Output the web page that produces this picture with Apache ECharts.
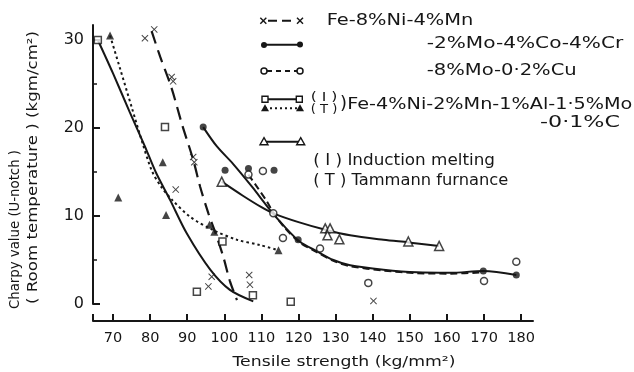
<!DOCTYPE html>
<html><head><meta charset="utf-8">
<script src="https://cdn.jsdelivr.net/npm/echarts@6/dist/echarts.min.js"></script>
<style>html,body{margin:0;padding:0;background:#fff}#c{width:634px;height:372px}</style>
</head><body><div id="c"></div>
<script>
// ---- tick labels ----
const xTicks = [70, 80, 90, 100, 110, 120, 130, 140, 150, 160, 170, 180];
const yTicks = [0, 10, 20, 30];
const yMinorTicks = [5, 15, 25];

// ---- measured points (tensile strength, charpy value) ----
const ptsFeNiMn = [[78.6,30.2],[81.1,31.2],[85.8,25.8],[86.2,25.3],[91.6,16.7],[91.9,16.1],[86.9,13.0],[96.6,3.1],[95.7,2.0],[106.7,3.3],[106.9,2.2],[140.2,0.35]];
const ptsMoCoCr = [[94.3,20.1],[100.2,15.2],[106.5,15.4],[113.4,15.2],[119.9,7.3],[169.8,3.75],[178.7,3.3]];
const ptsMoCu = [[106.5,14.7],[110.4,15.1],[113.2,10.3],[115.8,7.5],[125.8,6.3],[138.8,2.4],[170.0,2.6],[178.7,4.8]];
const ptsInduction = [[65.9,30.0],[84.0,20.1],[99.5,7.1],[92.6,1.4],[107.7,1.0],[117.9,0.26]];
const ptsTammann = [[69.2,30.5],[83.4,16.1],[71.4,12.1],[84.3,10.1],[96.0,9.0],[97.3,8.2],[114.6,6.1]];
const ptsC01 = [[99.3,13.9],[127.2,8.6],[128.5,8.6],[127.8,7.8],[131.0,7.35],[149.6,7.1],[157.9,6.6]];

// ---- fitted curves ----
const curveFeNiMn = [[80.4,31.0],[82.7,28.1],[85.8,24.5],[88.6,20.4],[91.6,16.4],[93.5,13.3],[95.7,10.3],[97.5,8.2],[99.7,5.4],[101.5,2.6],[103.4,0.45]];
const curveMoCoCr = [[94.3,20.1],[98.0,17.9],[102.4,15.9],[107.5,13.3],[112.3,10.7],[116.0,8.9],[120.3,7.1],[124.9,6.0],[129.4,5.0],[133.9,4.4],[142.9,3.9],[151.9,3.6],[160.9,3.55],[169.8,3.75],[178.7,3.3]];
const curveMoCu = [[106.5,14.7],[109.0,13.2],[111.4,11.7],[113.2,10.4],[116.0,8.8],[120.3,7.0],[124.9,5.9],[129.4,4.9],[133.9,4.3],[142.9,3.8],[151.9,3.5],[160.9,3.45],[169.8,3.6]];
const curveInduction = [[65.9,30.0],[70.0,26.2],[74.5,21.8],[78.5,18.0],[81.5,15.0],[85.4,11.8],[89.9,8.0],[96.2,3.9],[101.5,1.6],[107.8,0.3]];
const curveTammann = [[69.2,30.5],[72.0,26.6],[75.0,22.4],[78.0,18.2],[80.5,15.1],[83.0,13.3],[86.0,11.8],[90.8,9.9],[97.0,8.4],[103.4,7.3],[109.6,6.7],[114.6,6.1]];
const curveC01 = [[99.3,13.9],[105.0,12.3],[110.0,11.0],[113.2,10.3],[120.0,9.3],[127.5,8.4],[133.9,7.8],[142.9,7.3],[149.6,7.0],[157.9,6.6]];

const INK = '#161616';
const FONT = 'DejaVu Sans';
const CROSS = 'path://M1,0L5,4L9,0L10,1L6,5L10,9L9,10L5,6L1,10L0,9L4,5L0,1Z';

const mctx = document.createElement('canvas').getContext('2d');
function fitText(str, x, y, width, size, rot) {
  mctx.font = size + 'px "' + FONT + '"';
  const w = mctx.measureText(str).width;
  return { type: 'text', x: x, y: y, rotation: rot || 0, scaleX: width / w, z: 10,
    style: { text: str, fontSize: size, fontFamily: FONT, fill: INK, align: 'left', verticalAlign: 'middle' } };
}
function seg(x1, x2, y, dash) {
  return { type: 'line', shape: { x1: x1, y1: y, x2: x2, y2: y }, z: 10,
    style: { stroke: INK, lineWidth: 2, lineDash: dash || null } };
}
function dot(x, y, open) {
  return { type: 'circle', shape: { cx: x, cy: y, r: 3 }, z: 11,
    style: open ? { fill: '#fff', stroke: INK, lineWidth: 1.5 } : { fill: INK } };
}
function sq(x, y) {
  return { type: 'rect', shape: { x: x - 3, y: y - 3, width: 6, height: 6 }, z: 11, style: { fill: '#fff', stroke: INK, lineWidth: 1.4 } };
}
function tri(x, y, open) {
  return { type: 'polygon', shape: { points: [[x, y - 4], [x + 4, y + 3], [x - 4, y + 3]] }, z: 11,
    style: open ? { fill: '#fff', stroke: INK, lineWidth: 1.4 } : { fill: INK } };
}
function cross(x, y) {
  return { type: 'group', z: 11, children: [
    { type: 'line', shape: { x1: x - 3, y1: y - 3, x2: x + 3, y2: y + 3 }, style: { stroke: INK, lineWidth: 1.4 } },
    { type: 'line', shape: { x1: x + 3, y1: y - 3, x2: x - 3, y2: y + 3 }, style: { stroke: INK, lineWidth: 1.4 } }
  ] };
}

const graphics = [
  // legend rows
  seg(268, 296, 20.7, [9, 5]), cross(263.3, 20.7), cross(300, 20.7),
  fitText('Fe-8%Ni-4%Mn', 326.7, 20.5, 146.6, 16),
  seg(264, 300, 44.8), dot(264, 45), dot(300, 44.6),
  fitText('-2%Mo-4%Co-4%Cr', 426.7, 44.3, 196.6, 16),
  seg(267, 297, 71, [5, 4]), dot(264, 71, true), dot(300, 71, true),
  fitText('-8%Mo-0·2%Cu', 426.7, 70.6, 150, 16),
  seg(265, 299, 99.3), sq(265, 99.3), sq(299.3, 99.3),
  fitText('( I )', 310.7, 98, 26.7, 12),
  seg(265, 300, 108.3, [2, 3]), tri(265, 108.3), tri(300, 108.3),
  fitText('( T )', 310.7, 109.5, 26.7, 12),
  { type: 'text', x: 340, y: 104.5, z: 10, style: { text: ')', fontSize: 18, fontFamily: FONT, fill: INK, align: 'left', verticalAlign: 'middle' } },
  fitText('Fe-4%Ni-2%Mn-1%Al-1·5%Mo', 347.3, 104.5, 285, 16),
  fitText('-0·1%C', 540, 123.3, 80, 16),
  seg(264, 300.7, 141.7), tri(264, 141.7, true), tri(300.7, 141.7, true),
  fitText('( I ) Induction melting', 313.3, 161.3, 181.7, 16),
  fitText('( T ) Tammann furnance', 313.3, 181, 195, 16),
  // axis titles
  fitText('Tensile strength (kg/mm²)', 232.5, 362, 223, 14.5),
  fitText('Charpy value (U-notch )', 15, 309, 159, 14.5, Math.PI / 2),
  fitText('( Room temperature ) (kgm/cm²)', 33, 304, 273, 14.5, Math.PI / 2)
];

function lineSeries(data, dash, w) {
  return { type: 'line', data: data, smooth: 0.3, showSymbol: false, symbol: 'none', z: 2, silent: true,
    lineStyle: { color: INK, width: w || 2, type: dash || 'solid' } };
}
function scatterSeries(data, symbol, size, open) {
  return { type: 'scatter', data: data, symbol: symbol, symbolSize: size, z: 5, silent: true,
    itemStyle: open ? { color: '#fff', borderColor: INK, borderWidth: 1.5 } : { color: INK, borderWidth: 0 } };
}

const chart = echarts.init(document.getElementById('c'), null, { renderer: 'canvas' });
chart.setOption({
  animation: false,
  backgroundColor: '#fff',
  grid: { left: 93, right: 101, top: 25, bottom: 68, containLabel: false, outerBoundsMode: 'none' },
  xAxis: {
    type: 'value', min: 64.6, max: 183.2, offset: 17,
    axisLine: { show: true, onZero: false, lineStyle: { color: INK, width: 2 } },
    axisTick: { show: true, inside: true, length: 7, customValues: [64.6].concat(xTicks), lineStyle: { color: INK, width: 2 } },
    axisLabel: { customValues: xTicks, fontSize: 14.5, fontFamily: FONT, color: INK, margin: 10 },
    splitLine: { show: false }
  },
  yAxis: [{
    type: 'value', min: 0, max: 31.7, position: 'left',
    axisLine: { show: true, onZero: false, lineStyle: { color: INK, width: 2 } },
    axisTick: { show: true, inside: true, length: 7, customValues: yTicks, lineStyle: { color: INK, width: 2 } },
    axisLabel: { customValues: yTicks, fontSize: 16, fontFamily: FONT, color: INK, margin: 9 },
    splitLine: { show: false }
  }, {
    type: 'value', min: 0, max: 31.7, position: 'left',
    axisLine: { show: false },
    axisTick: { show: true, inside: true, length: 4, customValues: yMinorTicks, lineStyle: { color: INK, width: 1.5 } },
    axisLabel: { show: false },
    splitLine: { show: false }
  }],
  series: [
    lineSeries(curveFeNiMn, [13, 7], 2.2),
    lineSeries(curveMoCoCr),
    lineSeries(curveMoCu, [7, 4]),
    lineSeries(curveInduction),
    lineSeries(curveTammann, [2.5, 3]),
    lineSeries(curveC01),
    scatterSeries(ptsFeNiMn, CROSS, 7),
    scatterSeries(ptsMoCoCr, 'circle', 7),
    scatterSeries(ptsMoCu, 'circle', 7, true),
    scatterSeries(ptsInduction, 'rect', 7, true),
    scatterSeries(ptsTammann, 'triangle', 8),
    scatterSeries(ptsC01, 'triangle', 9, true)
  ],
  graphic: graphics
});
</script>
</body></html>
